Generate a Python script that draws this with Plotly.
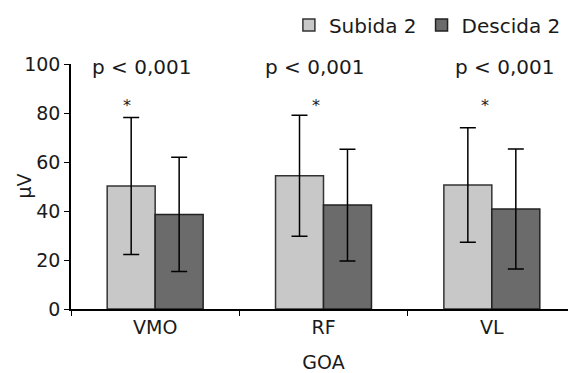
import plotly.graph_objects as go

categories = ["VMO", "RF", "VL"]
subida_vals = [50.2, 54.4, 50.6]
subida_err = [28.0, 24.7, 23.4]
descida_vals = [38.6, 42.4, 40.8]
descida_err = [23.3, 22.8, 24.5]
y_ticks = [0, 20, 40, 60, 80, 100]
p_labels = ["p < 0,001", "p < 0,001", "p < 0,001"]
p_x = [-0.083, 0.944, 2.077]
star_x = [-0.165, 0.955, 1.96]

FONT = "DejaVu Sans"
fs = 19

fig = go.Figure()
fig.add_trace(go.Bar(
    name="Subida 2", x=categories, y=subida_vals,
    marker=dict(color="#c8c8c8", line=dict(color="#333333", width=1.5)),
    error_y=dict(type="data", array=subida_err, color="black", thickness=1.5, width=8),
))
fig.add_trace(go.Bar(
    name="Descida 2", x=categories, y=descida_vals,
    marker=dict(color="#6b6b6b", line=dict(color="#222222", width=1.5)),
    error_y=dict(type="data", array=descida_err, color="black", thickness=1.5, width=8),
))

for px, lab in zip(p_x, p_labels):
    fig.add_annotation(x=px, y=98.8, text=lab, showarrow=False, xref="x", yref="y",
                       font=dict(family=FONT, size=20, color="#1a1a1a"), yanchor="middle")
for sx in star_x:
    fig.add_annotation(x=sx, y=83, text="*", showarrow=False, xref="x", yref="y",
                       font=dict(family=FONT, size=16, color="#1a1a1a"), yanchor="middle")

# y-axis title
fig.add_annotation(x=-0.095, y=0.5, xref="paper", yref="paper", text="μV", textangle=-90,
                   showarrow=False, font=dict(family=FONT, size=fs, color="#1a1a1a"),
                   xanchor="center", yanchor="middle")

fig.update_layout(
    width=568, height=365,
    margin=dict(l=63, r=0, t=56, b=64, autoexpand=False),
    plot_bgcolor="white", paper_bgcolor="white",
    barmode="group", bargap=0.43, bargroupgap=0,
    font=dict(family=FONT, size=fs, color="#1a1a1a"),
    showlegend=True,
    legend=dict(orientation="h", x=0.98, xanchor="right", y=1.159, yanchor="middle",
                font=dict(family=FONT, size=20), itemwidth=30, bgcolor="rgba(0,0,0,0)"),
    xaxis=dict(range=[-0.5, 2.5], showline=True, linecolor="black", linewidth=1.5,
               ticks="outside", tickson="boundaries", ticklen=5, tickcolor="black",
               tickfont=dict(family=FONT, size=fs),
               title=dict(text="GOA", font=dict(family=FONT, size=fs), standoff=20),
               showgrid=False, zeroline=False),
    yaxis=dict(range=[0, 100], tickvals=y_ticks, showline=True, linecolor="black", linewidth=1.5,
               ticks="outside", ticklen=5, tickcolor="black",
               tickfont=dict(family=FONT, size=fs),
               showgrid=False, zeroline=False),
)

fig.write_html("out.html")
